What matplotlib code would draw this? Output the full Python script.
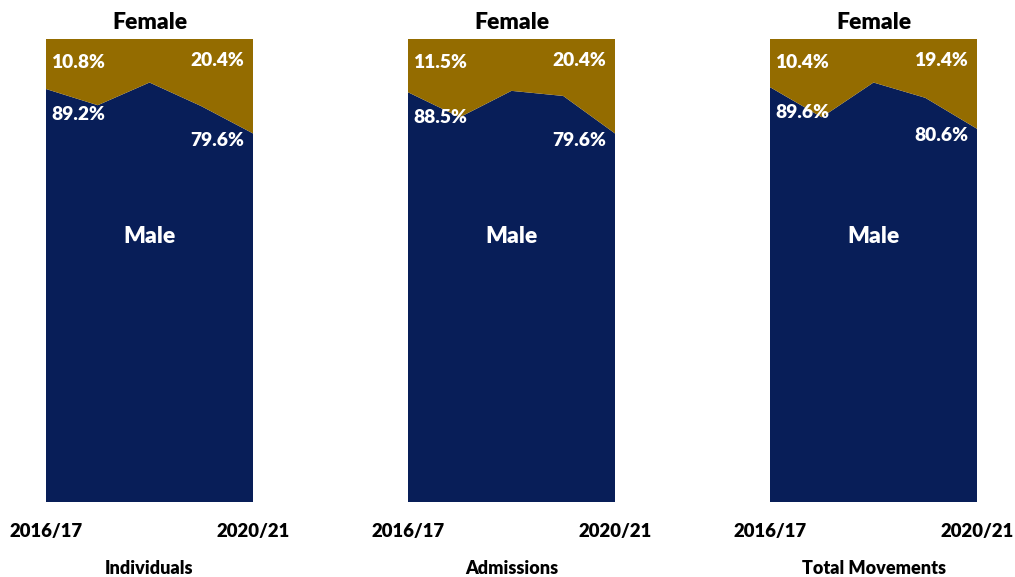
import numpy as np
import matplotlib.pyplot as plt

plt.rcParams['font.family'] = ['Lato', 'DejaVu Sans']

years = ['2016/17', '2017/18', '2018/19', '2019/20', '2020/21']
panels = ['Individuals', 'Admissions', 'Total Movements']

# male share (%) per year (ends are labelled)
male_individuals = [89.2, 85.7, 90.6, 85.5, 79.6]
male_admissions = [88.5, 83.1, 88.8, 87.7, 79.6]
male_movements = [89.6, 83.1, 90.6, 87.3, 80.6]

male_all = [male_individuals, male_admissions, male_movements]

navy = '#081E58'
gold = '#946C00'

fig = plt.figure(figsize=(10.15, 5.77), dpi=100)
lefts = [46, 408, 770]

for i, male in enumerate(male_all):
    male = np.array(male)
    female = 100 - male
    x = np.arange(len(years))
    ax = fig.add_axes([lefts[i] / 1015, 1 - 502 / 577, 207 / 1015, 463 / 577])
    ax.stackplot(x, male, female, colors=[navy, gold], linewidth=0)
    ax.set_xlim(0, len(years) - 1)
    ax.set_ylim(0, 100)
    ax.set_yticks([])
    ax.set_xticks([0, len(years) - 1])
    ax.set_xticklabels([years[0], years[-1]], fontsize=13.3, fontweight='heavy')
    ax.tick_params(axis='x', length=0, pad=15)
    # panel name under the year labels
    ax.text(0.5, -0.143, panels[i], transform=ax.transAxes, fontsize=13,
            fontweight='heavy', ha='center', va='center')
    for s in ax.spines.values():
        s.set_visible(False)

    kw = dict(color='white', fontsize=13.8, fontweight='heavy', va='center')
    ax.text(0.1, 95.0, f'{female[0]:.1f}%', ha='left', **kw)
    ax.text(0.1, male[0] - 5.5, f'{male[0]:.1f}%', ha='left', **kw)
    ax.text(3.83, 95.3, f'{female[-1]:.1f}%', ha='right', **kw)
    ax.text(3.83, male[-1] - 1.5, f'{male[-1]:.1f}%', ha='right', **kw)
    ax.text(2, 57.4, 'Male', color='white', fontsize=16.5, fontweight='heavy',
            ha='center', va='center')
    ax.text(2, 103.6, 'Female', color='black', fontsize=16.5, fontweight='heavy',
            ha='center', va='center')

plt.savefig('out.png')
